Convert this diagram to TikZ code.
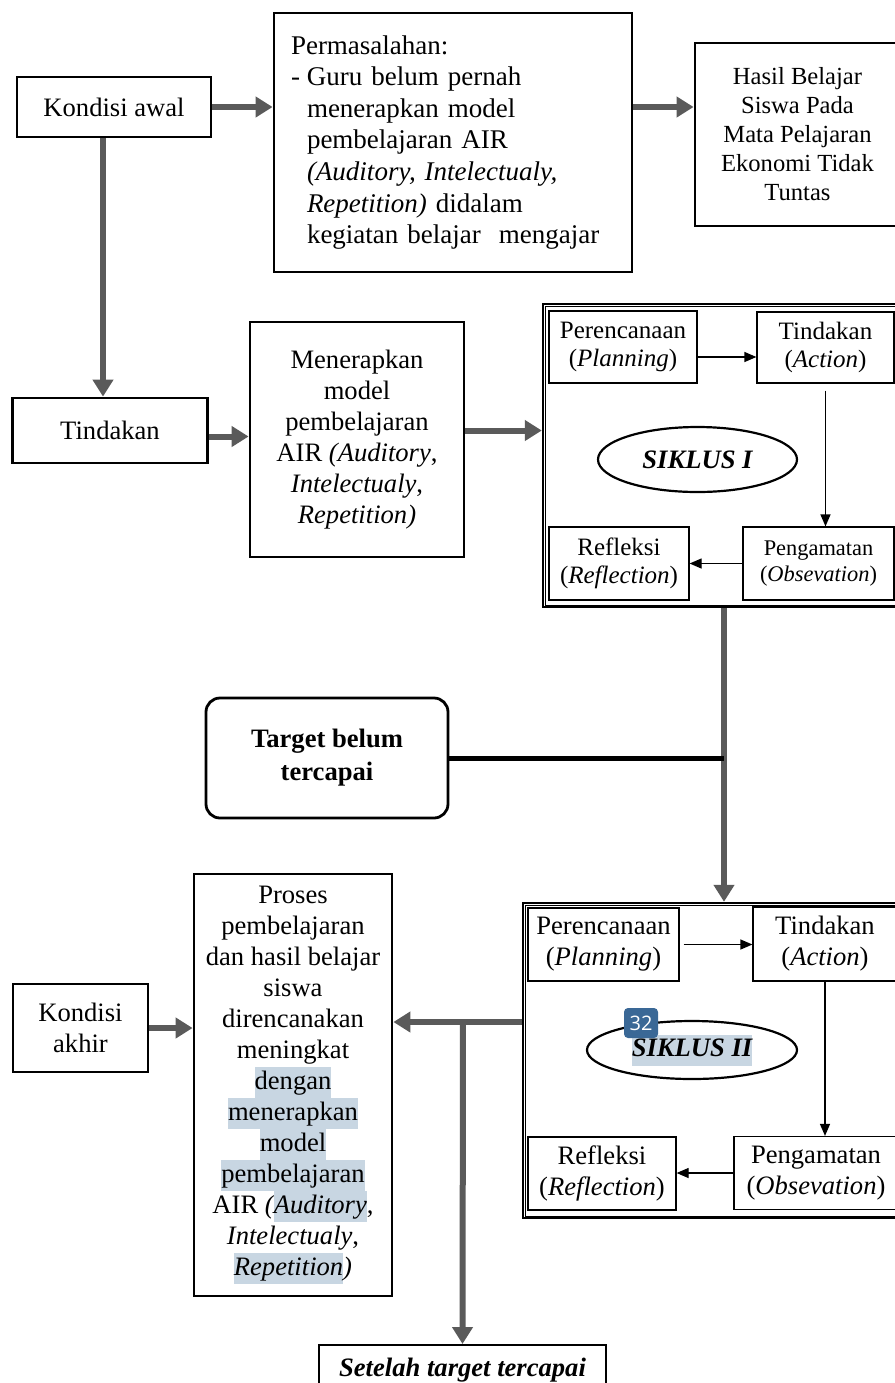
\documentclass[tikz,border=0pt]{standalone}
\usepackage{fontspec}
\setmainfont{Liberation Serif}
\newfontfamily\badgefont{Open Sans}
\usetikzlibrary{arrows.meta,shapes.geometric}

\definecolor{arrowgray}{RGB}{90,90,90}
\definecolor{hlblue}{RGB}{200,214,226}
\definecolor{badgeblue}{RGB}{58,104,150}
\newcommand{\mainsize}{\fontsize{13.3}{15.5}\selectfont}
\newcommand{\hlword}[1]{{\setlength{\fboxsep}{0pt}\colorbox{hlblue}{\strut #1}}}

\tikzset{
  box/.style={draw, line width=1.4pt, align=center, inner sep=0pt, font=\mainsize},
  cyclebox/.style={draw, line width=0.6pt, align=center, inner sep=0pt},
  cycleframe/.style={draw, line width=1.2pt, inner sep=0pt},
  bigarrow/.style={draw=arrowgray, line width=3pt, -{Triangle[length=8.5pt,width=10pt]}},
  smallarrow/.style={line width=0.6pt, -{Triangle[length=6pt,width=5pt]}},
}

\begin{document}
\begin{tikzpicture}[x=1pt,y=-1pt]
    \useasboundingbox (0,0) rectangle (447.5,691.5);

    % kondisi awal
    \node[box, minimum width=97pt, minimum height=30pt] (kondisi) at (57,53.5) {Kondisi awal};
    \node[box, align=left, text width=162pt, inner xsep=8.5pt, minimum height=129.5pt,
          font=\fontsize{13.5}{15.8}\selectfont] (masalah) at (226.5,71.25)
        {Permasalahan:\\
         \makebox[8pt][l]{-}Guru belum pernah\\
         \hspace*{8pt}menerapkan model\\
         \hspace*{8pt}pembelajaran AIR\\
         \hspace*{8pt}\textit{(Auditory, Intelectualy,}\\
         \hspace*{8pt}\textit{Repetition)} didalam\\
         \hspace*{8pt}kegiatan belajar\ \ mengajar};
    \node[box, minimum width=102.5pt, minimum height=91.5pt, font=\fontsize{12.3}{14.5}\selectfont] (hasil) at (398.75,67.25)
        {Hasil Belajar\\Siswa Pada\\Mata Pelajaran\\Ekonomi Tidak\\Tuntas};

    % tindakan
    \node[box, minimum width=97.5pt, minimum height=32.5pt] (tindakan) at (55,215.25) {Tindakan};
    \node[box, minimum width=107pt, minimum height=117.5pt] (menerapkan) at (178.5,219.75)
        {Menerapkan\\model\\pembelajaran\\AIR \textit{(Auditory},\\\textit{Intelectualy},\\\textit{Repetition)}};

    % siklus I
    \node[cycleframe, minimum width=181pt, minimum height=151.5pt] (siklusA) at (362,227.75) {};
    \draw[line width=0.5pt] ([shift={(1.6,1.6)}]siklusA.north west) rectangle ([shift={(-1.6,-1.6)}]siklusA.south east);
    \node[cyclebox, minimum width=74pt, minimum height=36pt, font=\fontsize{12.5}{14}\selectfont] (perencanaanA) at (311.5,173.5)
        {Perencanaan\\(\textit{Planning})};
    \node[cyclebox, minimum width=68.5pt, minimum height=35.5pt, font=\fontsize{12.5}{14}\selectfont] (tindakanA) at (412.75,173.75)
        {Tindakan\\(\textit{Action})};
    \node[cyclebox, minimum width=75.5pt, minimum height=36.5pt, font=\fontsize{11.2}{13}\selectfont] (pengamatanA) at (409.25,281.75)
        {Pengamatan\\(\textit{Obsevation})};
    \node[cyclebox, minimum width=70pt, minimum height=36.5pt, font=\fontsize{12.5}{14}\selectfont] (refleksiA) at (309.5,281.75)
        {Refleksi\\(\textit{Reflection})};
    \node[ellipse, draw, line width=1.1pt, inner sep=0pt, minimum width=99.5pt, minimum height=32.5pt,
          font=\mainsize\bfseries\itshape] (lingkaranA) at (348.75,229.75) {SIKLUS I};
    \draw[smallarrow] ([yshift=-5pt]perencanaanA.east) -- ([yshift=-5pt]perencanaanA.east -| tindakanA.west);
    \draw[smallarrow] ([yshift=-3.5pt]tindakanA.south) -- (tindakanA.south |- pengamatanA.north);
    \draw[smallarrow] (pengamatanA.west) -- (pengamatanA.west -| refleksiA.east);

    % target belum tercapai
    \node[box, rounded corners=7pt, minimum width=121pt, minimum height=60pt,
          font=\fontsize{13.3}{16.5}\selectfont\bfseries] (target) at (163.5,379) {Target belum\\tercapai};

    % siklus II
    \node[cycleframe, minimum width=191pt, minimum height=157.5pt] (siklusB) at (357,530.25) {};
    \draw[line width=0.5pt] ([shift={(1.6,1.6)}]siklusB.north west) rectangle ([shift={(-1.6,-1.6)}]siklusB.south east);
    \node[cyclebox, minimum width=75.5pt, minimum height=36.5pt, font=\mainsize] (perencanaanB) at (301.75,472.25)
        {Perencanaan\\(\textit{Planning})};
    \node[cyclebox, minimum width=72pt, minimum height=37pt, font=\mainsize] (tindakanB) at (412.5,472)
        {Tindakan\\(\textit{Action})};
    \node[cyclebox, minimum width=82pt, minimum height=36.5pt, font=\mainsize] (pengamatanB) at (408,586.5)
        {Pengamatan\\(\textit{Obsevation})};
    \node[cyclebox, minimum width=74pt, minimum height=36.5pt, font=\mainsize] (refleksiB) at (301,586.75)
        {Refleksi\\(\textit{Reflection})};
    \node[ellipse, draw, line width=1.1pt, inner sep=0pt, minimum width=105pt, minimum height=29pt,
          font=\mainsize\bfseries\itshape] (lingkaranB) at (346,525) {\hlword{SIKLUS II}};
    \node[fill=badgeblue, rounded corners=2pt, text=white, inner sep=0pt, minimum width=17pt, minimum height=15pt,
          font=\badgefont\fontsize{10}{12}\selectfont] (badge) at (320.5,511.5) {32};
    \draw[smallarrow] ([xshift=2pt]perencanaanB.east) -- (perencanaanB.east -| tindakanB.west);
    \draw[smallarrow] (tindakanB.south) -- (tindakanB.south |- pengamatanB.north);
    \draw[smallarrow] (pengamatanB.west) -- (pengamatanB.west -| refleksiB.east);

    % kondisi akhir
    \node[box, minimum width=99pt, minimum height=211pt] (proses) at (146.5,542.5)
        {Proses\\pembelajaran\\dan hasil belajar\\siswa\\direncanakan\\meningkat\\\hlword{dengan}\\\hlword{menerapkan}\\\hlword{model}\\\hlword{pembelajaran}\\AIR \textit{(\hlword{Auditory}},\\\textit{Intelectualy},\\\textit{\hlword{Repetition})}};
    \node[box, minimum width=67.5pt, minimum height=44pt] (akhir) at (40.25,514) {Kondisi\\akhir};
    \node[draw, line width=1pt, inner sep=0pt, minimum width=143.5pt, minimum height=25pt,
          font=\mainsize\bfseries\itshape] (setelah) at (231.25,685) {Setelah target tercapai};
    \coordinate (branch) at (231.5,511);

    % penghubung
    \draw[bigarrow] (kondisi.east) -- (kondisi.east -| masalah.west);
    \draw[bigarrow] (masalah.east |- kondisi.east) -- (kondisi.east -| hasil.west);
    \draw[bigarrow] ([xshift=-5.5pt]kondisi.south) -- ([xshift=-5.5pt]kondisi.south |- tindakan.north);
    \draw[bigarrow] ([yshift=-3pt]tindakan.east) -- ([yshift=-3pt]tindakan.east -| menerapkan.west);
    \draw[bigarrow] (menerapkan.east |- tindakan.east) -- (tindakan.east -| siklusA.west);
    \draw[bigarrow] (siklusA.south) -- (siklusA.south |- siklusB.north);
    \draw[line width=2.5pt] (target.east) -- (siklusA.south |- target.east);
    \draw[bigarrow] (siklusB.west |- branch) -- (proses.east |- branch);
    \draw[bigarrow] (branch) -- (setelah.north);
    \draw[bigarrow] (akhir.east) -- (akhir.east -| proses.west);
\end{tikzpicture}
\end{document}
